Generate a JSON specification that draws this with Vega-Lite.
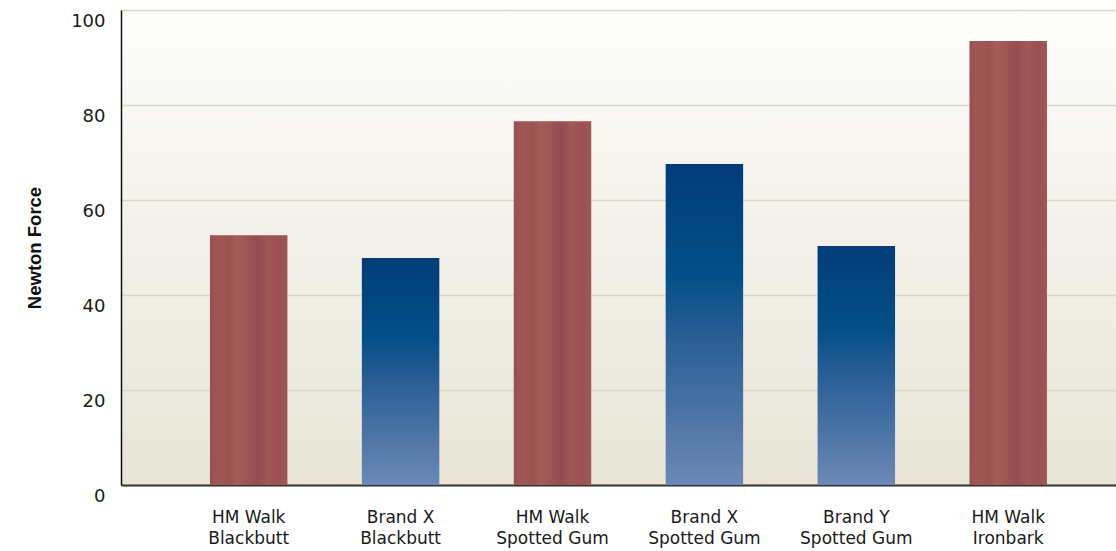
{
  "$schema": "https://vega.github.io/schema/vega-lite/v6.json",
  "autosize": "none",
  "width": 995,
  "height": 475,
  "padding": {"left": 121, "top": 10, "right": 0, "bottom": 66},
  "background": "#ffffff",
  "config": {
    "view": {
      "stroke": null,
      "fill": {"gradient": "linear", "x1": 0, "y1": 0, "x2": 0, "y2": 1,
        "stops": [{"offset": 0, "color": "#fdfdfb"}, {"offset": 0.5, "color": "#f2f0e8"}, {"offset": 1, "color": "#e8e5d7"}]}
    },
    "font": "DejaVu Sans"
  },
  "data": {
    "values": [
      {"product": "HM Walk\nBlackbutt", "kind": "wood", "force": 52.6},
      {"product": "Brand X\nBlackbutt", "kind": "blue", "force": 47.8},
      {"product": "HM Walk\nSpotted Gum", "kind": "wood", "force": 76.6},
      {"product": "Brand X\nSpotted Gum", "kind": "blue", "force": 67.6},
      {"product": "Brand Y\nSpotted Gum", "kind": "blue", "force": 50.3},
      {"product": "HM Walk\nIronbark", "kind": "wood", "force": 93.5}
    ]
  },
  "encoding": {
    "x": {
      "field": "product", "type": "nominal",
      "sort": ["HM Walk\nBlackbutt", "Brand X\nBlackbutt", "HM Walk\nSpotted Gum", "Brand X\nSpotted Gum", "Brand Y\nSpotted Gum", "HM Walk\nIronbark"],
      "scale": {"paddingInner": 0.49, "paddingOuter": 0.52, "align": 0.563},
      "axis": {
        "title": null, "labelAngle": 0, "ticks": false,
        "domainColor": "#333333", "domainWidth": 2,
        "labelExpr": "split(datum.label, '\\n')",
        "labelFont": "DejaVu Sans",
        "labelFontSize": 17, "labelColor": "#1a1a1a", "labelPadding": 24,
        "labelLineHeight": 21, "labelBaseline": "top"
      }
    },
    "y": {
      "field": "force", "type": "quantitative",
      "scale": {"domain": [0, 100], "nice": false},
      "axis": {
        "title": "Newton Force", "titleFont": "Liberation Sans", "titleFontSize": 18.5, "titleFontWeight": "bold",
        "titleColor": "#111111", "titlePadding": 26,
        "values": [0, 20, 40, 60, 80, 100], "ticks": false,
        "domainColor": "#111111", "domainWidth": 1.5,
        "gridColor": "#d9d9c3", "gridWidth": 1.5,
        "labelFont": "DejaVu Sans",
        "labelFontSize": 18, "labelColor": "#1a1a1a", "labelPadding": 16, "labelOffset": 11
      }
    }
  },
  "layer": [
    {
      "transform": [{"filter": "datum.kind === 'wood'"}],
      "mark": {
        "type": "bar",
        "color": {"gradient": "linear", "x1": 0, "y1": 0, "x2": 1, "y2": 0,
          "stops": [
            {"offset": 0, "color": "#984f51"},
            {"offset": 0.12, "color": "#a15854"},
            {"offset": 0.25, "color": "#9a5252"},
            {"offset": 0.35, "color": "#a65d57"},
            {"offset": 0.5, "color": "#9c5453"},
            {"offset": 0.62, "color": "#934c52"},
            {"offset": 0.75, "color": "#a05755"},
            {"offset": 0.88, "color": "#9a5153"},
            {"offset": 1, "color": "#9f5654"}
          ]}
      }
    },
    {
      "transform": [{"filter": "datum.kind === 'blue'"}],
      "mark": {
        "type": "bar",
        "color": {"gradient": "linear", "x1": 0, "y1": 0, "x2": 0, "y2": 1,
          "stops": [
            {"offset": 0, "color": "#023d78"},
            {"offset": 0.35, "color": "#024f88"},
            {"offset": 0.5, "color": "#235a92"},
            {"offset": 1, "color": "#6c89b6"}
          ]}
      }
    }
  ]
}
